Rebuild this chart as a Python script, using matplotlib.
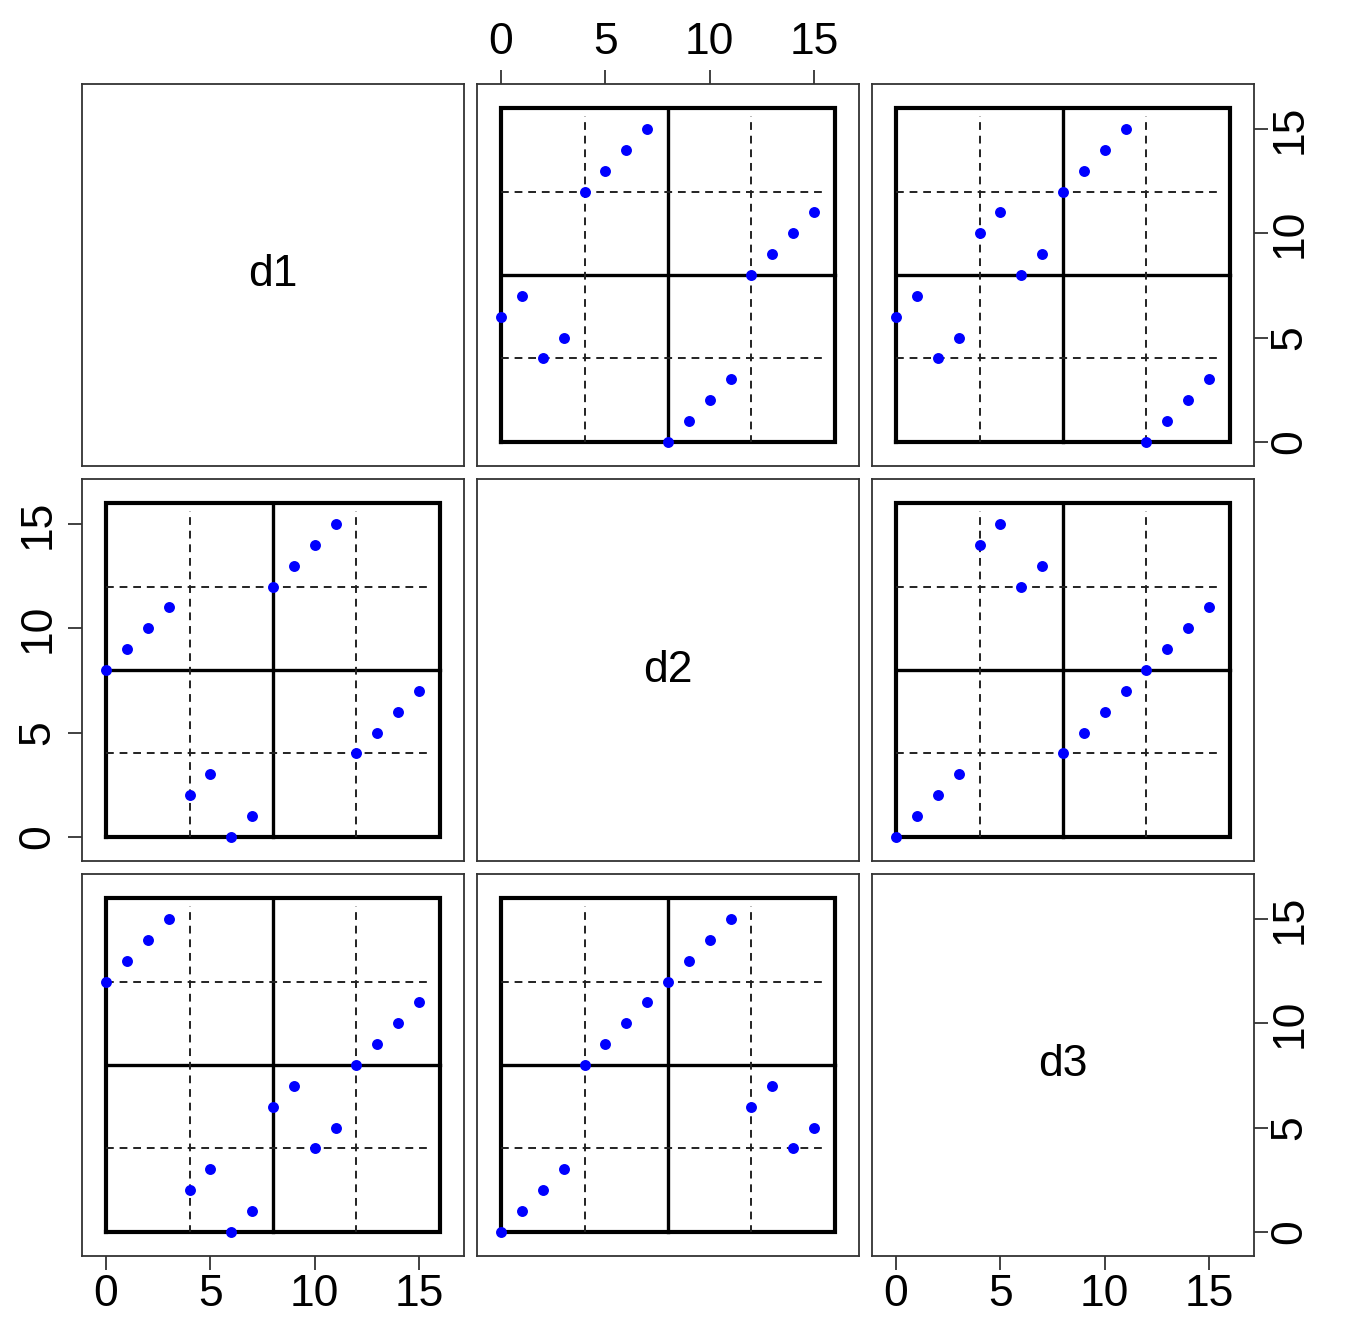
import numpy as np
import matplotlib.pyplot as plt

plt.rcParams['font.family'] = ['Liberation Sans', 'DejaVu Sans']

# three variables, indexed by d1 = 0..15
d1 = list(range(16))
d2 = [8, 9, 10, 11, 2, 3, 0, 1, 12, 13, 14, 15, 4, 5, 6, 7]
d3 = [12, 13, 14, 15, 2, 3, 0, 1, 6, 7, 4, 5, 8, 9, 10, 11]
names = ['d1', 'd2', 'd3']
ticks = [0, 5, 10, 15]

data = [np.array(d1), np.array(d2), np.array(d3)]

W, H = 1345, 1317
fig = plt.figure(figsize=(W / 100, H / 100), dpi=100)

lefts = [82, 477, 872]
tops = [84, 479, 874]
size = 382
lim = (-1.15, 17.15)

for r in range(3):
    for c in range(3):
        ax = fig.add_axes([lefts[c] / W, 1 - (tops[r] + size) / H, size / W, size / H])
        ax.set_xlim(lim)
        ax.set_ylim(lim)
        for s in ax.spines.values():
            s.set_linewidth(1.3)
            s.set_color('#333333')
        ax.set_xticks([])
        ax.set_yticks([])
        if r == c:
            ax.text(8, 8, names[r], ha='center', va='center', fontsize=32)
        else:
            # quadrant frame
            ax.plot([0, 16, 16, 0, 0], [0, 0, 16, 16, 0], color='black', lw=3.0,
                    solid_joinstyle='miter')
            ax.plot([8, 8], [0, 16], color='black', lw=2.4)
            ax.plot([0, 16], [8, 8], color='black', lw=2.4)
            for g in (4, 12):
                ax.plot([g, g], [0, 15.6], color='#222222', lw=1.4, ls=(0.5, (4, 3)))
                ax.plot([0, 15.6], [g, g], color='#222222', lw=1.4, ls=(0, (4, 3)))
            ax.scatter(data[c], data[r], s=62, color='#0000ff', zorder=5, linewidths=0)

        ax.tick_params(length=10, width=1.3, labelsize=32, pad=5, color='#333333')
        if r == 0 and c == 1:
            ax.set_xticks(ticks)
            ax.xaxis.tick_top()
        if r == 2 and c in (0, 2):
            ax.set_xticks(ticks)
            ax.tick_params(axis='x', pad=3)
        if c == 0 and r == 1:
            ax.set_yticks(ticks)
            ax.set_yticklabels([str(t) for t in ticks], rotation=90, va='center')
            ax.tick_params(axis='y', pad=7)
        if c == 2 and r in (0, 2):
            ax.set_yticks(ticks)
            ax.yaxis.tick_right()
            ax.set_yticklabels([str(t) for t in ticks], rotation=90, va='center')
            ax.tick_params(axis='y', pad=1)

fig.savefig('out.png', dpi=100)
